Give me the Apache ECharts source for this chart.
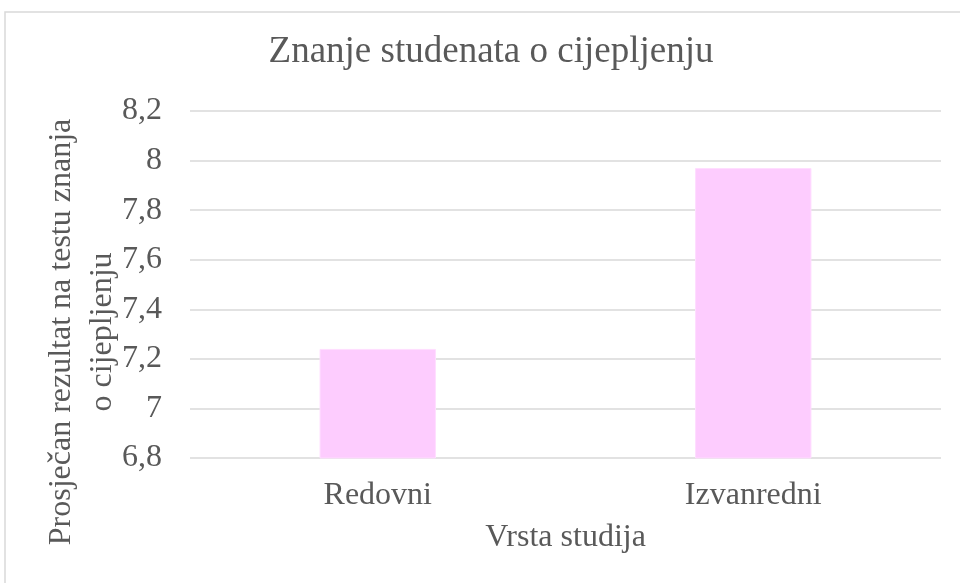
<!DOCTYPE html>
<html>
<head>
<meta charset="utf-8">
<script src="https://cdn.jsdelivr.net/npm/echarts@6/dist/echarts.min.js"></script>
<style>
    html, body { margin: 0; padding: 0; background: #fff; }
    #chart { width: 960px; height: 583px; }
</style>
</head>
<body>
<div id="chart"></div>
<script>
// podaci s grafikona
var categories = ["Redovni", "Izvanredni"];
var scores = [7.24, 7.97];
var yTicks = [6.8, 7, 7.2, 7.4, 7.6, 7.8, 8, 8.2];

var textColor = '#595959';
var fontName = '"Liberation Serif", "Times New Roman", serif';

var myChart = echarts.init(document.getElementById('chart'));

// format s decimalnim zarezom
function formatTick(v) {
    return String(Math.round(v * 10) / 10).replace('.', ',');
}

var option = {
    animation: false,
    backgroundColor: '#fff',
    title: {
        text: 'Znanje studenata o cijepljenju',
        left: 491,
        top: 34,
        padding: 0,
        textAlign: 'center',
        textStyle: {
            fontFamily: fontName,
            fontWeight: 'normal',
            fontSize: 37,
            color: textColor
        }
    },
    grid: {
        left: 190,
        right: 19,
        top: 111,
        bottom: 125
    },
    xAxis: {
        type: 'category',
        data: categories,
        name: 'Vrsta studija',
        nameLocation: 'middle',
        nameGap: 64,
        nameTextStyle: {
            fontFamily: fontName,
            fontSize: 32,
            color: textColor
        },
        axisLine: { show: false },
        axisTick: { show: false },
        axisLabel: {
            margin: 22,
            fontFamily: fontName,
            fontSize: 32,
            color: textColor
        }
    },
    yAxis: {
        type: 'value',
        min: yTicks[0],
        max: yTicks[yTicks.length - 1],
        interval: 0.2,
        axisLine: { show: false },
        axisTick: { show: false },
        splitLine: { lineStyle: { color: '#d9d9d9', width: 1.5 } },
        axisLabel: {
            margin: 28,
            fontFamily: fontName,
            fontSize: 32,
            color: textColor,
            formatter: formatTick
        }
    },
    series: [{
        type: 'bar',
        data: scores,
        barWidth: '31%',
        itemStyle: {
            color: '#FDCCFE',
            borderColor: '#FFDDFF',
            borderWidth: 1
        }
    }],
    graphic: [
        {
            type: 'rect',
            shape: { x: 5, y: 12, width: 970, height: 600 },
            style: { fill: 'none', stroke: '#d9d9d9', lineWidth: 1.5 },
            silent: true
        },
        {
            // naziv osi y, dva retka
            type: 'text',
            x: 82,
            y: 332,
            rotation: Math.PI / 2,
            style: {
                text: 'Prosječan rezultat na testu znanja\no cijepljenju',
                fontFamily: fontName,
                fontSize: 32,
                lineHeight: 41,
                fill: textColor,
                align: 'center',
                verticalAlign: 'middle'
            }
        }
    ]
};

option && myChart.setOption(option);
</script>
</body>
</html>
